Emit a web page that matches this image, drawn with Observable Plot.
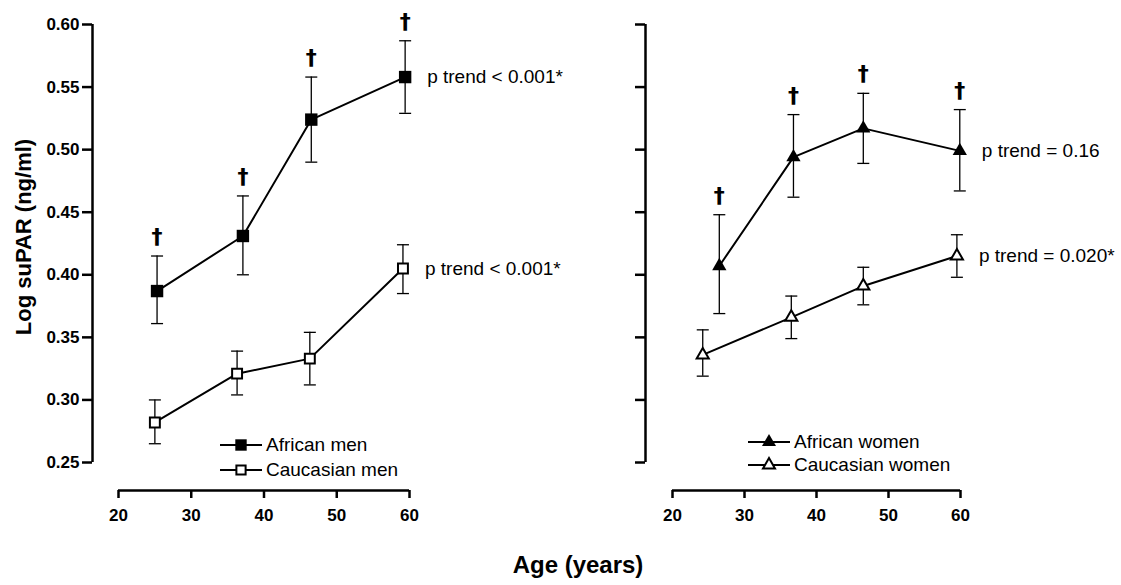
<!DOCTYPE html>
<html><head><meta charset="utf-8">
<script src="https://cdn.jsdelivr.net/npm/d3@7"></script>
<script src="https://cdn.jsdelivr.net/npm/@observablehq/plot@0.6"></script>
<style>
body{margin:0;background:#fff;}
#wrap{position:relative;width:1121px;height:585px;font-family:"Liberation Sans",Arial,sans-serif;overflow:hidden;background:#fff;color:#000;}
.panel{position:absolute;top:0;background:none !important;}
#wrap svg [aria-label$="tick label"]{font-size:17px;font-weight:bold;}
.lrow{position:absolute;height:24px;display:flex;align-items:center;font-size:19px;white-space:nowrap;}
.lrow svg{display:block;margin-right:4px;}
#ytitle{position:absolute;left:24px;top:237px;transform:translate(-50%,-50%) rotate(-90deg);font-weight:bold;font-size:22px;white-space:nowrap;line-height:1.15;}
#xtitle{position:absolute;left:578px;top:551px;transform:translateX(-50%);font-weight:bold;font-size:24px;white-space:nowrap;line-height:1.15;}
</style></head>
<body><div id="wrap"></div>
<script>
// ---- data ----
const xTicks = [20, 30, 40, 50, 60];
const yTicks = [0.25, 0.30, 0.35, 0.40, 0.45, 0.50, 0.55, 0.60];

// Men
const africanMenAge  = [25.3, 37.1, 46.5, 59.4];
const africanMenMean = [0.387, 0.431, 0.524, 0.558];
const africanMenLo   = [0.361, 0.400, 0.490, 0.529];
const africanMenHi   = [0.415, 0.463, 0.558, 0.587];
const africanMenDagger = [true, true, true, true];

const caucasianMenAge  = [25.0, 36.3, 46.3, 59.1];
const caucasianMenMean = [0.282, 0.321, 0.333, 0.405];
const caucasianMenLo   = [0.265, 0.304, 0.312, 0.385];
const caucasianMenHi   = [0.300, 0.339, 0.354, 0.424];
const caucasianMenDagger = [false, false, false, false];

// Women
const africanWomenAge  = [26.5, 36.8, 46.5, 59.9];
const africanWomenMean = [0.407, 0.494, 0.517, 0.499];
const africanWomenLo   = [0.369, 0.462, 0.489, 0.467];
const africanWomenHi   = [0.448, 0.528, 0.545, 0.532];
const africanWomenDagger = [true, true, true, true];

const caucasianWomenAge  = [24.2, 36.5, 46.5, 59.5];
const caucasianWomenMean = [0.336, 0.366, 0.391, 0.415];
const caucasianWomenLo   = [0.319, 0.349, 0.376, 0.398];
const caucasianWomenHi   = [0.356, 0.383, 0.406, 0.432];
const caucasianWomenDagger = [false, false, false, false];

const menTrends   = ["p trend < 0.001*", "p trend < 0.001*"];
const womenTrends = ["p trend = 0.16", "p trend = 0.020*"];
const menLabels   = ["African men", "Caucasian men"];
const womenLabels = ["African women", "Caucasian women"];

// ---- helpers ----
function rowsOf(group, filled, age, mean, lo, hi, dagger) {
  return age.map((a, i) => ({group, filled, age: a, mean: mean[i], lo: lo[i], hi: hi[i], dagger: dagger[i]}));
}
const capSymbol = {draw(ctx) { ctx.moveTo(-6, 0); ctx.lineTo(6, 0); }};
const FONT = '"Liberation Sans", Arial, sans-serif';

function panel({series, trends, width, marginLeft, marginRight, insetLeft, symbol, rFilled, rOpen, showYLabels}) {
  const rows = series.flat();
  const last = series.map((s, i) => ({...s[s.length - 1], trend: trends[i]}));
  return Plot.plot({
    width, height: 530,
    marginTop: 24, marginBottom: 40, marginLeft, marginRight,
    insetLeft, insetBottom: 28, insetTop: 0, insetRight: 0,
    x: {domain: [20, 60]},
    y: {domain: [0.25, 0.60]},
    style: {fontFamily: FONT, fontSize: "17px", fontWeight: "bold", overflow: "visible", background: "none", color: "black"},
    marks: [
      Plot.ruleX([20], {y1: 0.25, y2: 0.60, dx: -insetLeft, strokeWidth: 2.5}),
      Plot.ruleY([0.25], {x1: 20, x2: 60, dy: 28, strokeWidth: 2.5}),
      Plot.axisY({ticks: yTicks, tickSize: 10, tickPadding: 3, strokeWidth: 2.5, label: null,
        tickFormat: showYLabels ? d3.format(".2f") : () => "", fontSize: 17, fontWeight: "bold"}),
      Plot.axisX({ticks: xTicks, tickSize: 8, tickPadding: 10, strokeWidth: 2.5, label: null,
        tickFormat: d3.format("d"), fontSize: 17, fontWeight: "bold"}),
      Plot.ruleX(rows, {x: "age", y1: "lo", y2: "hi", strokeWidth: 1.3}),
      Plot.dot(rows, {x: "age", y: "lo", symbol: capSymbol, stroke: "black", fill: "none", strokeWidth: 1.3}),
      Plot.dot(rows, {x: "age", y: "hi", symbol: capSymbol, stroke: "black", fill: "none", strokeWidth: 1.3}),
      Plot.line(rows, {x: "age", y: "mean", z: "group", stroke: "black", strokeWidth: 2}),
      Plot.dot(rows.filter(d => d.filled), {x: "age", y: "mean", symbol, r: rFilled, fill: "black", stroke: "none"}),
      Plot.dot(rows.filter(d => !d.filled), {x: "age", y: "mean", symbol, r: rOpen, fill: "white", stroke: "black", strokeWidth: 2}),
      Plot.text(rows.filter(d => d.dagger), {x: "age", y: "hi", text: () => "\u2020", dy: -19, fontSize: 22, fontWeight: "bold", fontFamily: '"DejaVu Sans", sans-serif'}),
      Plot.text(last, {x: "age", y: "mean", text: "trend", dx: 22, textAnchor: "start", fontSize: 19, fontWeight: "normal"})
    ]
  });
}

const wrap = document.getElementById("wrap");

const left = panel({
  series: [
    rowsOf("African men", true, africanMenAge, africanMenMean, africanMenLo, africanMenHi, africanMenDagger),
    rowsOf("Caucasian men", false, caucasianMenAge, caucasianMenMean, caucasianMenLo, caucasianMenHi, caucasianMenDagger)
  ],
  trends: menTrends, width: 560, marginLeft: 92, marginRight: 151, insetLeft: 26,
  symbol: "square", rFilled: 7.0, rOpen: 5.6, showYLabels: true
});
left.classList.add("panel"); left.style.left = "0px";
wrap.appendChild(left);

const right = panel({
  series: [
    rowsOf("African women", true, africanWomenAge, africanWomenMean, africanWomenLo, africanWomenHi, africanWomenDagger),
    rowsOf("Caucasian women", false, caucasianWomenAge, caucasianWomenMean, caucasianWomenLo, caucasianWomenHi, caucasianWomenDagger)
  ],
  trends: womenTrends, width: 561, marginLeft: 85, marginRight: 161, insetLeft: 27,
  symbol: "triangle", rFilled: 5.3, rOpen: 4.5, showYLabels: false
});
right.classList.add("panel"); right.style.left = "560px";
wrap.insertBefore(right, left);

// ---- legends ----
function legendRow(x, yCenter, label, symType, filled, size) {
  const div = document.createElement("div");
  div.className = "lrow";
  div.style.left = x + "px";
  div.style.top = (yCenter - 12) + "px";
  const path = d3.symbol(symType === "square" ? d3.symbolSquare : d3.symbolTriangle, size)();
  div.innerHTML = `<svg width="42" height="24" viewBox="0 0 42 24">
    <line x1="0" y1="12" x2="42" y2="12" stroke="black" stroke-width="2"/>
    <path d="${path}" transform="translate(21,12)" fill="${filled ? "black" : "white"}" stroke="${filled ? "none" : "black"}" stroke-width="2"/>
  </svg><span>${label}</span>`;
  wrap.appendChild(div);
}
legendRow(220, 445, menLabels[0], "square", true, 130);
legendRow(220, 470, menLabels[1], "square", false, 85);
legendRow(748, 441.5, womenLabels[0], "triangle", true, 85);
legendRow(748, 465, womenLabels[1], "triangle", false, 62);

const yt = document.createElement("div"); yt.id = "ytitle"; yt.textContent = "Log suPAR (ng/ml)"; wrap.appendChild(yt);
const xt = document.createElement("div"); xt.id = "xtitle"; xt.textContent = "Age (years)"; wrap.appendChild(xt);
</script>
</body></html>
